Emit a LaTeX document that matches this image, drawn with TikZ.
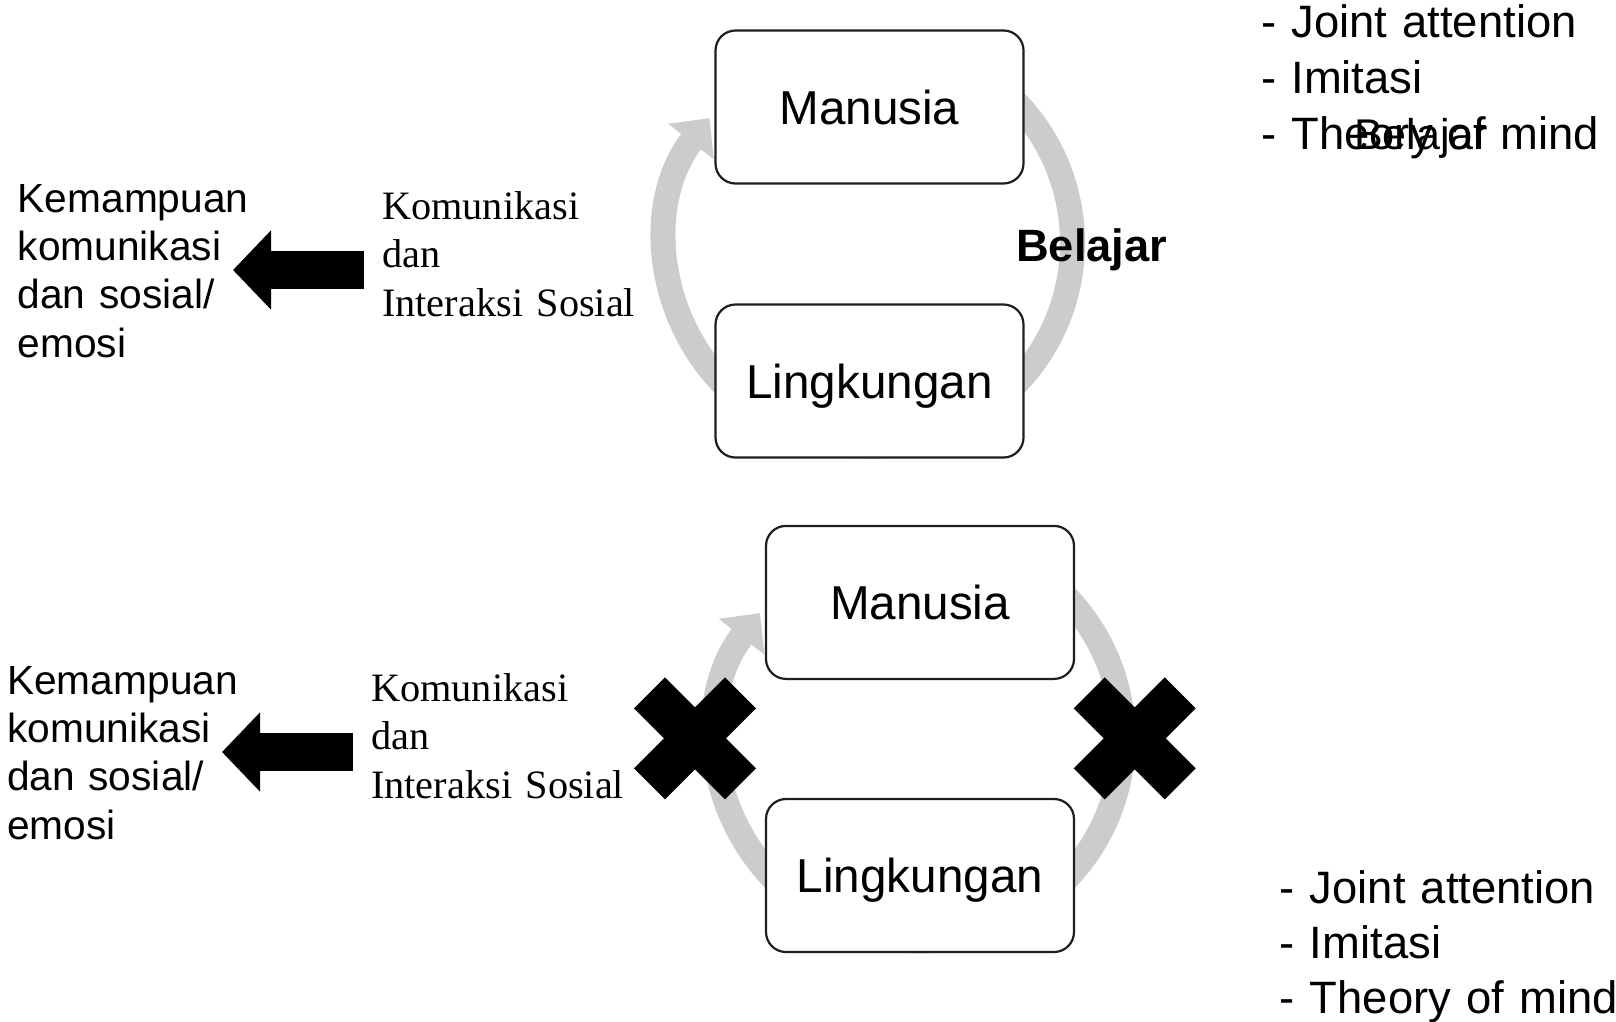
\documentclass[tikz,border=0pt]{standalone}
\usepackage{fontspec}
\setmainfont{Liberation Sans}
\newfontfamily\timesfont{Liberation Serif}
\usetikzlibrary{arrows.meta,calc}
\definecolor{ringgray}{RGB}{204,204,204}
\definecolor{boxline}{RGB}{30,30,30}
% interword spaces at their natural width
\newcommand{\fixedspaces}{\spaceskip=\fontdimen2\font\relax}

\begin{document}
\begin{tikzpicture}[x=1pt,y=-1pt,
  box/.style={draw=boxline, line width=2.2pt, fill=white, rounded corners=20pt,
    minimum width=308pt, minimum height=153pt, inner sep=0pt,
    text height=34pt, text depth=0pt, font=\fontsize{47.6}{57}\selectfont},
  ring/.style={draw=ringgray, line width=25pt, -{Triangle[length=30pt,width=56pt]}},
  blockarrow/.style={draw=black, line width=38pt, -{Triangle[length=38pt,width=77pt]}},
  sanstext/.style={inner sep=0pt, anchor=base west, align=left, text width=300pt,
    font=\fontsize{40.7}{48.2}\selectfont\fixedspaces},
  seriftext/.style={inner sep=0pt, anchor=base west, align=left, text width=300pt,
    font=\timesfont\fontsize{40.3}{48.5}\selectfont\fixedspaces},
  listtext/.style={inner sep=0pt, anchor=base west, align=left, text width=400pt,
    font=\fontsize{45.4}{55}\selectfont\fixedspaces},
  crossmark/.pic={
    \fill[black] (-61,-30) -- (-30,-61) -- (0,-31) -- (30,-61) -- (61,-30) -- (31,0)
      -- (61,30) -- (30,61) -- (0,31) -- (-30,61) -- (-61,30) -- (-31,0) -- cycle;
  }
]
\useasboundingbox (0,0) rectangle (1616,1021);
\fill[white] (0,0) rectangle (1616,1021);

% ---------- upper cycle: learning works ----------
\coordinate (cA) at (869.5,243);
\draw[ring] ($(cA)+(-50:203)$) arc[start angle=-50, end angle=218, radius=203];
\node[box] (manA) at (869.5,107) {Manusia};
\node[box] (linA) at (869.5,381) {Lingkungan};
\node[anchor=base west, inner sep=0pt, font=\bfseries\fontsize{45.3}{54}\selectfont]
  (belA) at (1016,261) {Belajar};

\node[seriftext] (komA) at (382,219.3) {Komunikasi\\dan\\Interaksi Sosial};
\node[sanstext] (kemA) at (17.5,212.5) {Kemampuan\\komunikasi\\dan sosial/\\emosi};
\coordinate (arA0) at (364,270);
\coordinate (arA1) at (233,270);
\draw[blockarrow] (arA0) -- (arA1);

\node[listtext, font=\fontsize{45.4}{56}\selectfont\fixedspaces]
  (listA) at (1261,37.7) {- Joint attention\\- Imitasi\\- Theory of mind};
\node[anchor=base west, inner sep=0pt, font=\fontsize{43}{50}\selectfont]
  (belB) at (1354,149.7) {Belajar};

% ---------- lower cycle: learning blocked ----------
\coordinate (cB) at (920,738);
\draw[ring] ($(cB)+(-50:203)$) arc[start angle=-50, end angle=218, radius=203];
\node[box] (manB) at (920,602.4) {Manusia};
\node[box] (linB) at (920,875.5) {Lingkungan};
\pic (xL) at (695,738.4) {crossmark};
\pic (xR) at (1134.7,738.4) {crossmark};

\node[seriftext] (komB) at (371,701.3) {Komunikasi\\dan\\Interaksi Sosial};
\node[sanstext] (kemB) at (7,694.5) {Kemampuan\\komunikasi\\dan sosial/\\emosi};
\coordinate (arB0) at (353,752);
\coordinate (arB1) at (222,752);
\draw[blockarrow] (arB0) -- (arB1);

\node[listtext] (listB) at (1279.5,903.5) {- Joint attention\\- Imitasi\\- Theory of mind};
\end{tikzpicture}
\end{document}
